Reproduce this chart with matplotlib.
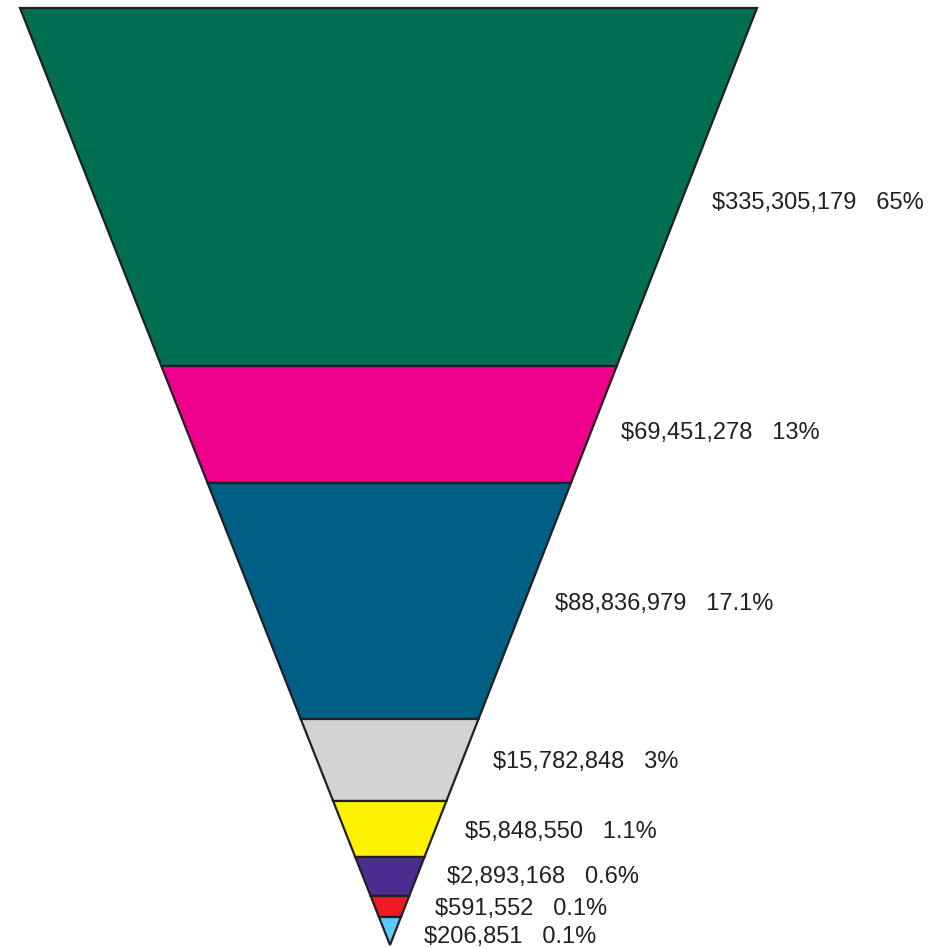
import matplotlib.pyplot as plt
from matplotlib.patches import Polygon

# values shown next to each band (top to bottom)
amounts = [335305179, 69451278, 88836979, 15782848, 5848550, 2893168, 591552, 206851]
percents = ["65%", "13%", "17.1%", "3%", "1.1%", "0.6%", "0.1%", "0.1%"]
colors = ["#006F51", "#EC008C", "#005F85", "#D1D3D4", "#FFF200", "#4B2D8F", "#ED1C24", "#5BCBF5"]

# layout of the funnel (pixel coordinates, y grows downwards)
top_y, apex_y = 8, 945
top_left, top_right, apex_x = 20, 757, 390
band_bottoms = [366, 483, 719, 801, 857, 896, 917, 945]
label_shift = [16, 9, 3, 2, 3, 1, 2, 6]

fig = plt.figure(figsize=(9.48, 9.48), dpi=100)
ax = fig.add_axes([0, 0, 1, 1])
ax.set_xlim(0, 948)
ax.set_ylim(948, 0)
ax.axis("off")


def left_x(y):
    return top_left + (apex_x - top_left) * (y - top_y) / (apex_y - top_y)


def right_x(y):
    return top_right - (top_right - apex_x) * (y - top_y) / (apex_y - top_y)


y0 = top_y
for i, y1 in enumerate(band_bottoms):
    pts = [(left_x(y0), y0), (right_x(y0), y0), (right_x(y1), y1), (left_x(y1), y1)]
    ax.add_patch(Polygon(pts, closed=True, facecolor=colors[i], edgecolor="#231F20",
                         linewidth=1.6, joinstyle="miter"))
    ly = (y0 + y1) / 2 + label_shift[i]
    ax.text(right_x(ly) + 31, ly, f"${amounts[i]:,}   {percents[i]}",
            fontsize=17, family="Liberation Sans", color="#231F20",
            ha="left", va="center")
    y0 = y1

fig.savefig("out.png", dpi=100)
